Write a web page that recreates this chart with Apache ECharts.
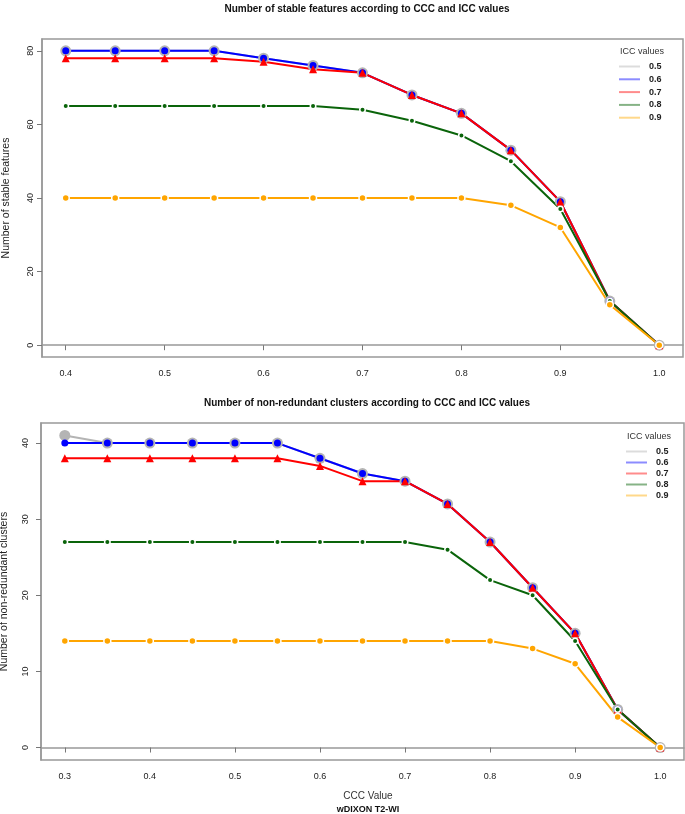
<!DOCTYPE html>
<html>
<head>
<meta charset="utf-8">
<script src="https://cdn.jsdelivr.net/npm/echarts@6/dist/echarts.min.js"></script>
<style>html,body{margin:0;padding:0;background:#fff}#c{width:685px;height:814px}</style>
</head>
<body>
<div id="c"></div>
<script>
// ---- data ----
const cccTop = [0.4,0.45,0.5,0.55,0.6,0.65,0.7,0.75,0.8,0.85,0.9,0.95,1.0];
const top05 = [80,80,80,80,78,76,74,68,63,53,39,12,0];
const top06 = [80,80,80,80,78,76,74,68,63,53,39,12,0];
const top07 = [78,78,78,78,77,75,74,68,63,53,39,12,0];
const top08 = [65,65,65,65,65,65,64,61,57,50,37,12,0];
const top09 = [40,40,40,40,40,40,40,40,40,38,32,11,0];

const cccBottom = [0.3,0.35,0.4,0.45,0.5,0.55,0.6,0.65,0.7,0.75,0.8,0.85,0.9,0.95,1.0];
const bot05 = [41,40,40,40,40,40,38,36,35,32,27,21,15,5,0];
const bot06 = [40,40,40,40,40,40,38,36,35,32,27,21,15,5,0];
const bot07 = [38,38,38,38,38,38,37,35,35,32,27,21,15,5,0];
const bot08 = [27,27,27,27,27,27,27,27,27,26,22,20,14,5,0];
const bot09 = [14,14,14,14,14,14,14,14,14,14,14,13,11,4,0];

const xTicksTop = [0.4,0.5,0.6,0.7,0.8,0.9,1.0];
const xTicksBottom = [0.3,0.4,0.5,0.6,0.7,0.8,0.9,1.0];
const yTicksTop = [0,20,40,60,80];
const yTicksBottom = [0,10,20,30,40];
const iccNames = ['0.5','0.6','0.7','0.8','0.9'];

// ---- styles ----
const FONT = 'Liberation Sans, Arial, sans-serif';
const lineColors = ['#b4b4b4','#0000ff','#ff0000','#0a640a','#ffa500'];
const paleColors = ['#dcdcdc','#8c8cff','#ff8c8c','#86b386','#ffd88a'];
const symbols = [
  {symbol:'circle', size:11, border:0},
  {symbol:'circle', size:7, border:0},
  {symbol:'triangle', size:8, border:0},
  {symbol:'circle', size:5.5, border:1.5},
  {symbol:'circle', size:7, border:1.5}
];

function pairs(xs, ys){ return xs.map((x,i)=>[x, ys[i]]); }

function makeSeries(xs, arrs, gi){
  return arrs.map((ys, k) => ({
    name: iccNames[k],
    type: 'line',
    xAxisIndex: gi, yAxisIndex: gi,
    data: pairs(xs, ys),
    symbol: symbols[k].symbol,
    symbolSize: symbols[k].size,
    showAllSymbol: true,
    animation: false,
    lineStyle: {color: lineColors[k], width: 2},
    itemStyle: {color: lineColors[k], borderColor: '#fff', borderWidth: symbols[k].border},
    emphasis: {disabled: true}
  }));
}

function xAxis(gi, min, max, ticks){
  return {
    type:'value', gridIndex: gi, min: min, max: max,
    axisLine: {show: true, lineStyle: {color:'#999', width:1.5}},
    axisTick: {show:true, length:5, customValues: ticks, lineStyle:{color:'#777'}},
    axisLabel: {customValues: ticks, formatter: v => v.toFixed(1), fontFamily: FONT, fontSize: 9, color:'#222', margin: 12},
    splitLine: {show:false}
  };
}
function yAxis(gi, min, max, ticks, name, gap, margin){
  return {
    type:'value', gridIndex: gi, min: min, max: max,
    name: name, nameLocation:'middle', nameGap: gap, nameRotate: 90,
    nameTextStyle: {fontFamily: FONT, fontSize: 10.5, color:'#222'},
    axisLine: {show: true, lineStyle: {color:'#999', width:1.5}},
    axisTick: {show:true, length:5, customValues: ticks, lineStyle:{color:'#777'}},
    axisLabel: {customValues: ticks, rotate: 90, fontFamily: FONT, fontSize: 9, color:'#222', margin: margin},
    splitLine: {show:false}
  };
}
function legend(left, top, gap){
  return {
    orient:'vertical', left: left, top: top, itemWidth: 21, itemHeight: 2, itemGap: gap,
    icon: 'rect', selectedMode: false,
    data: iccNames.map((n,k)=>({name:n, itemStyle:{color: paleColors[k], borderWidth:0}})),
    textStyle: {fontFamily: FONT, fontSize: 9, fontWeight:'bold', color:'#222', padding:[0,0,0,4], lineHeight: 11}
  };
}

const chart = echarts.init(document.getElementById('c'), null, {renderer:'canvas'});
chart.setOption({
  animation: false,
  backgroundColor: '#fff',
  title: [
    {text:'Number of stable features according to CCC and ICC values', left: 362, top: -1, textAlign:'center',
     textStyle:{fontFamily:FONT, fontSize:10, fontWeight:'bold', color:'#111'}},
    {text:'ICC values', left: 637, top: 42, textAlign:'center', textStyle:{fontFamily:FONT, fontSize:9, fontWeight:'normal', color:'#333'}},
    {text:'Number of non-redundant clusters according to CCC and ICC values', left: 362, top: 393, textAlign:'center',
     textStyle:{fontFamily:FONT, fontSize:10, fontWeight:'bold', color:'#111'}},
    {text:'ICC values', left: 644, top: 427, textAlign:'center', textStyle:{fontFamily:FONT, fontSize:9, fontWeight:'normal', color:'#333'}},
    {text:'CCC Value', left: 363, top: 786, textAlign:'center', textStyle:{fontFamily:FONT, fontSize:10, fontWeight:'normal', color:'#333'}},
    {text:'wDIXON T2-WI', left: 363, top: 800, textAlign:'center', textStyle:{fontFamily:FONT, fontSize:9, fontWeight:'bold', color:'#111'}}
  ],
  legend: [legend(614, 56, 1.8), legend(621, 441, 0)],
  grid: [
    {left:42, top:39, width:641, height:318, show:true, borderColor:'#999', borderWidth:1.5, backgroundColor:'transparent', containLabel:false, outerBoundsMode:'none'},
    {left:41, top:423, width:643, height:337, show:true, borderColor:'#999', borderWidth:1.5, backgroundColor:'transparent', containLabel:false, outerBoundsMode:'none'}
  ],
  xAxis: [xAxis(0, 0.376, 1.024, xTicksTop), xAxis(1, 0.272, 1.028, xTicksBottom)],
  yAxis: [yAxis(0, -3.2, 83.2, yTicksTop, 'Number of stable features', 30, 7),
          yAxis(1, -1.64, 42.64, yTicksBottom, 'Number of non-redundant clusters', 31, 11)],
  series: [].concat(
    makeSeries(cccTop, [top05, top06, top07, top08, top09], 0),
    makeSeries(cccBottom, [bot05, bot06, bot07, bot08, bot09], 1)
  )
});
</script>
</body>
</html>
